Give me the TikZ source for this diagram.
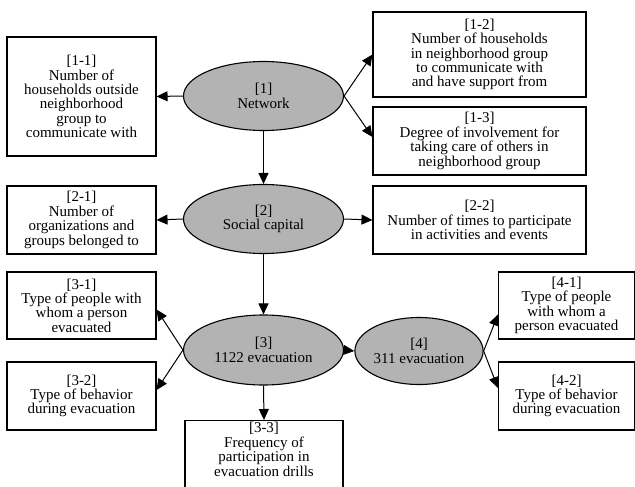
\documentclass[tikz,border=0pt]{standalone}
\usepackage{fontspec}
\setmainfont{Liberation Serif}
\usetikzlibrary{shapes.geometric, arrows.meta, positioning}
\definecolor{Oval_Gray}{HTML}{B3B3B3}

\begin{document}
\begin{tikzpicture}[x=1pt, y=-1pt,
    item/.style={draw, line width=1.1pt, align=center, inner sep=2pt, font=\fontsize{15}{14.4}\selectfont},
    factor/.style={ellipse, draw, line width=1.1pt, fill=Oval_Gray, align=center, inner sep=0pt, font=\fontsize{15}{14.4}\selectfont},
    link/.style={-{Triangle[length=11pt, width=10pt]}, line width=1pt}]

    % Frame of the page
    \clip (0,0) rectangle (635,487);

    % Ovals for the factors
    \node[factor, minimum width=160pt, minimum height=69pt] (e1) at (263.5,96) {[1]\\Network};
    \node[factor, minimum width=160pt, minimum height=69pt] (e2) at (263.5,219) {[2]\\Social capital};
    \node[factor, minimum width=160pt, minimum height=70pt] (e3) at (263.5,350) {[3]\\1122 evacuation};
    \node[factor, minimum width=118pt, minimum height=67pt] (e4) at (419,351) {[4]\\311 evacuation};

    % Boxes for the items
    \node[item, minimum width=149pt, minimum height=119pt] (b11) at (81.5,96.5) {[1-1]\\Number of\\households outside\\neighborhood\\group to\\communicate with};
    \node[item, minimum width=213pt, minimum height=85pt] (b12) at (479.5,54.5) {[1-2]\\Number of households\\in neighborhood group\\to communicate with\\and have support from};
    \node[item, minimum width=213pt, minimum height=68pt] (b13) at (479.5,141) {[1-3]\\Degree of involvement for\\taking care of others in\\neighborhood group};
    \node[item, minimum width=149pt, minimum height=68pt] (b21) at (81.5,220) {[2-1]\\Number of\\organizations and\\groups belonged to};
    \node[item, minimum width=213pt, minimum height=68pt] (b22) at (479.5,220) {[2-2]\\Number of times to participate\\in activities and events};
    \node[item, minimum width=149pt, minimum height=67pt] (b31) at (81.5,305.5) {[3-1]\\Type of people with\\whom a person\\evacuated};
    \node[item, minimum width=149pt, minimum height=68pt] (b32) at (81.5,396) {[3-2]\\Type of behavior\\during evacuation};
    \node[item, minimum width=158pt, anchor=north, text depth=30pt] (b33) at (264,420) {[3-3]\\Frequency of\\participation in\\evacuation drills};
    \node[item, minimum width=136pt, minimum height=67pt] (b41) at (566.5,305.5) {[4-1]\\Type of people\\with whom a\\person evacuated};
    \node[item, minimum width=136pt, minimum height=68pt] (b42) at (566.5,396) {[4-2]\\Type of behavior\\during evacuation};

    % Arrows from the factors
    \draw[link] (e1.west) -- (b11.east);
    \draw[link] (e1.east) -- (b12.west);
    \draw[link] (e1.east) -- ([yshift=4pt]b13.west);
    \draw[link] (e1.south) -- (e2.north);
    \draw[link] (e2.west) -- (b21.east);
    \draw[link] (e2.east) -- (b22.west);
    \draw[link] (e2.south) -- (e3.north);
    \draw[link] (e3.west) -- ([yshift=-4pt]b31.east);
    \draw[link] (e3.west) -- ([yshift=6pt]b32.east);
    \draw[link] (e3.south) -- (b33.north);
    \draw[link] (e3.east) -- (e4.west);
    \draw[link] (e4.east) -- ([yshift=-9pt]b41.west);
    \draw[link] (e4.east) -- ([yshift=8pt]b42.west);
\end{tikzpicture}
\end{document}
